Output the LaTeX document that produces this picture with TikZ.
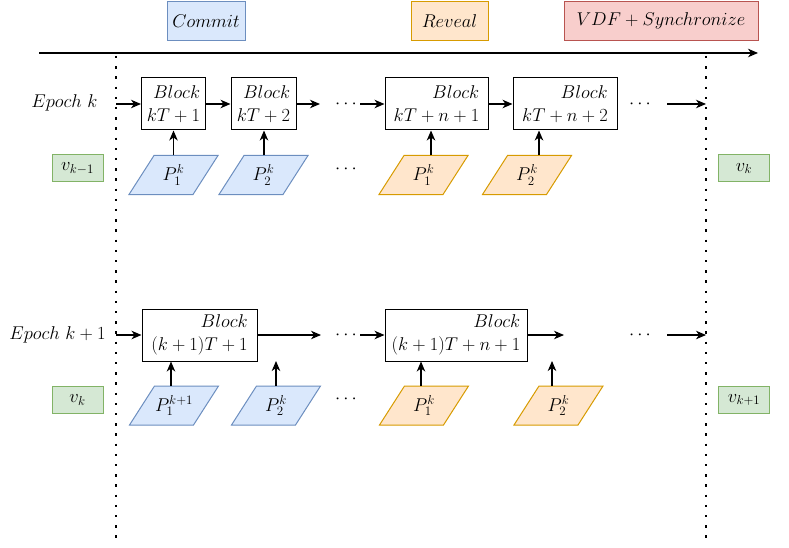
\RequirePackage{fix-cm}
\documentclass[tikz,border=0pt]{standalone}
\usetikzlibrary{arrows.meta,calc}
\definecolor{bluefill}{HTML}{DAE8FC}\definecolor{bluedraw}{HTML}{6C8EBF}
\definecolor{orfill}{HTML}{FFE6CC}\definecolor{ordraw}{HTML}{D79B00}
\definecolor{grfill}{HTML}{D5E8D4}\definecolor{grdraw}{HTML}{82B366}
\definecolor{rdfill}{HTML}{F8CECC}\definecolor{rddraw}{HTML}{B85450}
\tikzset{
  every node/.style={font=\fontsize{18.5}{23}\selectfont, inner sep=0pt},
  blockbox/.style={draw, line width=1pt, minimum height=52pt, align=right},
  tagbox/.style={draw, line width=1pt, minimum height=39pt},
  vbox/.style={draw=grdraw, fill=grfill, line width=1pt, minimum width=51pt, minimum height=27pt},
  bluepara/.style={draw=bluedraw, fill=bluefill, line width=1pt},
  orpara/.style={draw=ordraw, fill=orfill, line width=1pt},
  paratext/.style={minimum width=40pt, minimum height=39pt},
  arr/.style={-{Stealth[length=10pt,width=8.5pt,inset=3pt]}, line width=1.1pt},
  dotline/.style={line width=2.4pt, dash pattern=on 2.4pt off 7.8pt},
  dotsnode/.style={anchor=base},
}
\newcommand\paragram[4]{%
  \path[#3] ($(#2)+(-44.5,19.5)$) -- ($(#2)+(19.5,19.5)$) -- ($(#2)+(44.5,-19.5)$) -- ($(#2)+(-19.5,-19.5)$) -- cycle;
  \node[paratext] (#1) at (#2) {#4};}
\begin{document}
\begin{tikzpicture}[x=1pt,y=-1pt]
\useasboundingbox (0,0) rectangle (789,548);
% top tags
\node[tagbox, draw=bluedraw, fill=bluefill, minimum width=78pt] (commit) at (206,21) {$Commit$};
\node[tagbox, draw=ordraw, fill=orfill, minimum width=77pt] (reveal) at (449.5,21) {$Reveal$};
\node[tagbox, draw=rddraw, fill=rdfill, minimum width=194pt] (vdf) at (661,21) {$VDF+Synchronize$};
% timeline
\coordinate (tl0) at (39,53);
\coordinate (tl1) at (758,53);
\draw[arr] (tl0) -- (tl1);
% dotted lines
\draw[dotline] (115.7,56) -- (115.7,542);
\draw[dotline] (705.7,56) -- (705.7,542);
% ---------- epoch k
\node (ek) at (64.5,103) {$Epoch\ k$};
\node[blockbox, minimum width=64pt] (b1) at (173.5,104) {$Block$\\$kT+1$};
\node[blockbox, minimum width=65pt] (b2) at (263.5,104) {$Block$\\$kT+2$};
\node[blockbox, minimum width=103pt] (b3) at (436.5,104) {$Block$\\$kT+n+1$};
\node[blockbox, minimum width=104pt] (b4) at (565,104) {$Block$\\$kT+n+2$};
\coordinate (r1a) at (116,104);
\coordinate (r1b) at (320,104);
\coordinate (r1c) at (360,104);
\coordinate (r1d) at (667,104);
\coordinate (r1e) at (706,104);
\draw[arr] (r1a) -- (b1.west);
\draw[arr] (b1.east) -- (b2.west);
\draw[arr] (b2.east) -- (r1b);
\draw[arr] (r1c) -- (b3.west);
\draw[arr] (b3.east) -- (b4.west);
\draw[arr] (r1d) -- (r1e);
\node[dotsnode] (d1) at (346,108.5) {$\cdots$};
\node[dotsnode] (d2) at (640,108.5) {$\cdots$};
\node[dotsnode] (d3) at (346,173.5) {$\cdots$};
\node[vbox] (vkm1) at (77.5,168.5) {$v_{k-1}$};
\node[vbox] (vk1) at (744,168.5) {$v_k$};
\paragram{p1}{173.5,175}{bluepara}{$P_1^k$}
\paragram{p2}{263.5,175}{bluepara}{$P_2^k$}
\paragram{p3}{423.5,175}{orpara}{$P_1^k$}
\paragram{p4}{527,175}{orpara}{$P_2^k$}
\draw[arr] (p1.north) -- (p1.north |- b1.south);
\draw[arr] ([xshift=0.5pt]p2.north) -- ([xshift=0.5pt]p2.north |- b2.south);
\draw[arr] ([xshift=7.5pt]p3.north) -- ([xshift=7.5pt]p3.north |- b3.south);
\draw[arr] ([xshift=12pt]p4.north) -- ([xshift=12pt]p4.north |- b4.south);
% ---------- epoch k+1
\node (ek1) at (57.5,335) {$Epoch\ k+1$};
\node[blockbox, minimum width=115pt] (b5) at (199.5,335) {$Block$\\$(k+1)T+1$};
\node[blockbox, minimum width=142pt] (b6) at (456,335) {$Block$\\$(k+1)T+n+1$};
\coordinate (r2a) at (116,335);
\coordinate (r2b) at (321,335);
\coordinate (r2c) at (360,335);
\coordinate (r2d) at (564,335);
\coordinate (r2e) at (667,335);
\coordinate (r2f) at (706,335);
\draw[arr] (r2a) -- (b5.west);
\draw[arr] (b5.east) -- (r2b);
\draw[arr] (r2c) -- (b6.west);
\draw[arr] (b6.east) -- (r2d);
\draw[arr] (r2e) -- (r2f);
\node[dotsnode] (d4) at (346,339.5) {$\cdots$};
\node[dotsnode] (d5) at (640,339.5) {$\cdots$};
\node[dotsnode] (d6) at (346,403.5) {$\cdots$};
\node[vbox] (vk2) at (77.5,400) {$v_k$};
\node[vbox] (vkp1) at (744,400) {$v_{k+1}$};
\paragram{q1}{174,405.5}{bluepara}{$P_1^{k+1}$}
\paragram{q2}{276,405.5}{bluepara}{$P_2^k$}
\paragram{q3}{424,405.5}{orpara}{$P_1^k$}
\paragram{q4}{558.5,405.5}{orpara}{$P_2^k$}
\coordinate (q2top) at (276,361);
\coordinate (q4top) at (552,361);
\draw[arr] ([xshift=-3pt]q1.north) -- ([xshift=-3pt]q1.north |- b5.south);
\draw[arr] (q2.north) -- (q2top);
\draw[arr] ([xshift=-3pt]q3.north) -- ([xshift=-3pt]q3.north |- b6.south);
\draw[arr] ([xshift=-6.5pt]q4.north) -- (q4top);
\end{tikzpicture}
\end{document}
